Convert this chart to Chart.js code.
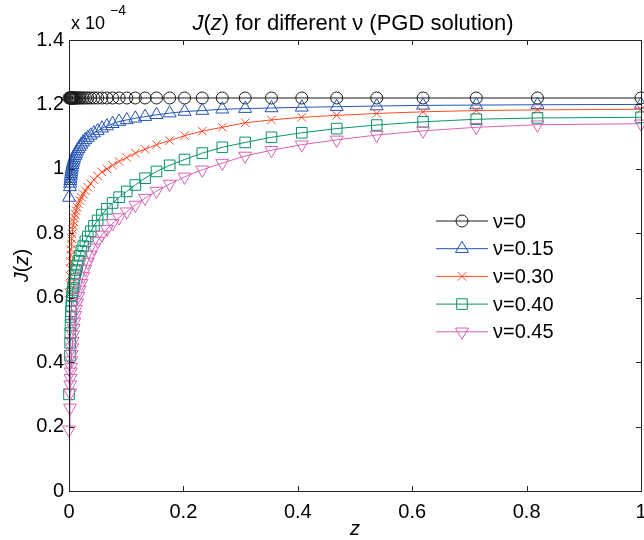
<!DOCTYPE html>
<html><head><meta charset="utf-8">
<script src="https://cdn.jsdelivr.net/npm/chart.js@4"></script>
<style>html,body{margin:0;padding:0;background:#fff}#wrap{width:644px;height:540px}</style>
</head><body><div id="wrap"><canvas id="c" width="644" height="540"></canvas></div>
<script>
// ---- data (J values in units of 1e-4) ----
const Z = [0, 0.0017, 0.0020, 0.0023, 0.0027, 0.0031, 0.0035, 0.0041, 0.0047, 0.0054, 0.0062, 0.0071, 0.0081, 0.0094, 0.0108, 0.0124, 0.0142, 0.0164, 0.0188, 0.0217, 0.0249, 0.0286, 0.0329, 0.0379, 0.0436, 0.0501, 0.0576, 0.0663, 0.0762, 0.0876, 0.101, 0.116, 0.133, 0.153, 0.176, 0.202, 0.233, 0.268, 0.308, 0.354, 0.407, 0.468, 0.538, 0.619, 0.712, 0.819, 1.0];
const J_NU_0 = [1.22,1.22,1.22,1.22,1.22,1.22,1.22,1.22,1.22,1.22,1.22,1.22,1.22,1.22,1.22,1.22,1.22,1.22,1.22,1.22,1.22,1.22,1.22,1.22,1.22,1.22,1.22,1.22,1.22,1.22,1.22,1.22,1.22,1.22,1.22,1.22,1.22,1.22,1.22,1.22,1.22,1.22,1.22,1.22,1.22,1.22,1.22];
const J_NU_015 = [0.911,0.944,0.955,0.963,0.970,0.978,0.985,0.992,0.999,1.006,1.013,1.020,1.027,1.034,1.041,1.048,1.055,1.062,1.069,1.076,1.083,1.090,1.097,1.104,1.111,1.118,1.126,1.133,1.140,1.147,1.152,1.157,1.162,1.168,1.173,1.178,1.181,1.185,1.187,1.189,1.191,1.193,1.195,1.197,1.198,1.199,1.200];
const J_NU_030 = [0.615,0.640,0.667,0.690,0.712,0.732,0.750,0.767,0.783,0.798,0.812,0.824,0.836,0.848,0.859,0.870,0.881,0.892,0.902,0.912,0.922,0.932,0.943,0.954,0.966,0.978,0.990,1.000,1.011,1.023,1.035,1.049,1.061,1.075,1.088,1.103,1.117,1.129,1.143,1.152,1.160,1.166,1.172,1.177,1.181,1.183,1.185];
const J_NU_040 = [0.300,0.420,0.460,0.490,0.515,0.540,0.558,0.575,0.591,0.604,0.617,0.630,0.644,0.658,0.672,0.686,0.700,0.715,0.730,0.745,0.760,0.775,0.790,0.806,0.823,0.840,0.858,0.876,0.894,0.912,0.930,0.950,0.971,0.992,1.011,1.029,1.049,1.067,1.082,1.098,1.112,1.125,1.136,1.146,1.154,1.158,1.160];
const J_NU_045 = [0.190,0.258,0.305,0.330,0.350,0.370,0.385,0.405,0.425,0.445,0.465,0.485,0.505,0.525,0.545,0.565,0.585,0.605,0.625,0.645,0.667,0.689,0.711,0.733,0.755,0.776,0.795,0.813,0.831,0.849,0.867,0.888,0.909,0.931,0.953,0.975,0.997,1.018,1.040,1.058,1.075,1.090,1.105,1.118,1.129,1.137,1.140];
const SERIES_LABELS = ['\u03bd=0', '\u03bd=0.15', '\u03bd=0.30', '\u03bd=0.40', '\u03bd=0.45'];
const X_TICKS = [0, 0.2, 0.4, 0.6, 0.8, 1];
const Y_TICKS = [0, 0.2, 0.4, 0.6, 0.8, 1, 1.2, 1.4];

// ---- styles ----
const FONT = "'Liberation Sans', Arial, Helvetica, sans-serif";
const STYLES = [
  {color:'#1a1a1a', pointStyle:'circle', radius:6, rotation:0},
  {color:'#2454b4', pointStyle:'triangle', radius:7.5, rotation:0},
  {color:'#ff4a25', pointStyle:'crossRot', radius:6, rotation:0},
  {color:'#07936b', pointStyle:'rect', radius:7.5, rotation:0},
  {color:'#d862b4', pointStyle:'triangle', radius:7.5, rotation:180}
];
const SERIES = [J_NU_0, J_NU_015, J_NU_030, J_NU_040, J_NU_045];

const datasets = SERIES.map((vals, i) => ({
  label: SERIES_LABELS[i],
  data: Z.map((z, k) => ({x: z, y: vals[k]})),
  showLine: true,
  borderColor: STYLES[i].color,
  borderWidth: 1,
  backgroundColor: 'rgba(0,0,0,0)',
  pointStyle: STYLES[i].pointStyle,
  pointRadius: STYLES[i].radius,
  pointRotation: STYLES[i].rotation,
  pointBorderColor: STYLES[i].color,
  pointBackgroundColor: 'rgba(0,0,0,0)',
  pointBorderWidth: 1,
  tension: 0,
  clip: false,
  order: 10 - i
}));

function fmt(v){ return (Math.round(v*10)/10).toString(); }

function drawRich(ctx, parts, x, y, size, align){
  let total = 0;
  parts.forEach(p => { ctx.font = (p[1] ? 'italic ' : '') + size + 'px ' + FONT; total += ctx.measureText(p[0]).width; });
  let cx = align === 'center' ? x - total/2 : x;
  ctx.textAlign = 'left';
  parts.forEach(p => { ctx.font = (p[1] ? 'italic ' : '') + size + 'px ' + FONT; ctx.fillText(p[0], cx, y); cx += ctx.measureText(p[0]).width; });
}

function drawMarker(ctx, st, x, y){
  const r = st.radius;
  ctx.beginPath();
  if (st.pointStyle === 'circle') { ctx.arc(x, y, r, 0, Math.PI*2); }
  else if (st.pointStyle === 'triangle') {
    let rad = st.rotation * Math.PI/180;
    for (let k=0;k<3;k++){ const px = x + Math.sin(rad)*r, py = y - Math.cos(rad)*r; k?ctx.lineTo(px,py):ctx.moveTo(px,py); rad += 2*Math.PI/3; }
    ctx.closePath();
  } else if (st.pointStyle === 'rect') { const s = Math.SQRT1_2*r; ctx.rect(x-s, y-s, 2*s, 2*s); }
  else if (st.pointStyle === 'crossRot') { const s = Math.SQRT1_2*r; ctx.moveTo(x-s,y-s); ctx.lineTo(x+s,y+s); ctx.moveTo(x-s,y+s); ctx.lineTo(x+s,y-s); }
  ctx.stroke();
}

const decor = {
  id: 'decor',
  afterDraw(chart){
    const ctx = chart.ctx, a = chart.chartArea, xs = chart.scales.x, ys = chart.scales.y;
    ctx.save();
    ctx.strokeStyle = '#222'; ctx.lineWidth = 1;
    ctx.strokeRect(Math.round(a.left)+0.5, Math.round(a.top)+0.5, Math.round(a.right-a.left), Math.round(a.bottom-a.top));
    ctx.beginPath();
    X_TICKS.forEach(v => { const px = Math.round(xs.getPixelForValue(v))+0.5; ctx.moveTo(px, a.bottom); ctx.lineTo(px, a.bottom-5); ctx.moveTo(px, a.top); ctx.lineTo(px, a.top+5); });
    Y_TICKS.forEach(v => { const py = Math.round(ys.getPixelForValue(v))+0.5; ctx.moveTo(a.left, py); ctx.lineTo(a.left+5, py); ctx.moveTo(a.right, py); ctx.lineTo(a.right-5, py); });
    ctx.stroke();
    ctx.fillStyle = '#000';
    ctx.textBaseline = 'middle';
    drawRich(ctx, [['J',true],['(',false],['z',true],[') for different \u03bd (PGD solution)',false]], (a.left+a.right)/2 - 2, 24, 22, 'center');
    ctx.textBaseline = 'alphabetic';
    drawRich(ctx, [['x 10',false]], 71, 29, 18, 'left');
    drawRich(ctx, [['\u22124',false]], 110, 15, 14, 'left');
    ctx.textBaseline = 'middle';
    drawRich(ctx, [['z',true]], (a.left+a.right)/2, 529, 20, 'center');
    ctx.save(); ctx.translate(22, (a.top+a.bottom)/2); ctx.rotate(-Math.PI/2);
    drawRich(ctx, [['J',true],['(',false],['z',true],[')',false]], 0, 0, 20, 'center');
    ctx.restore();
    SERIES_LABELS.forEach((lab, i) => {
      const y = 221 + i*27.7;
      const st = STYLES[i];
      ctx.strokeStyle = st.color; ctx.lineWidth = 1;
      ctx.beginPath(); ctx.moveTo(436, y); ctx.lineTo(488, y); ctx.stroke();
      drawMarker(ctx, st, 462, y);
      ctx.fillStyle = '#000'; ctx.textBaseline = 'middle';
      drawRich(ctx, [[lab,false]], 493, y+1, 20, 'left');
    });
    ctx.restore();
  }
};

new Chart(document.getElementById('c').getContext('2d'), {
  type: 'scatter',
  data: {datasets},
  options: {
    responsive: false, animation: false, devicePixelRatio: 1,
    layout: {padding: {left: 0, right: 3, top: 40, bottom: 0}, autoPadding: false},
    plugins: {legend: {display: false}, tooltip: {enabled: false}, title: {display: false}},
    scales: {
      x: {
        type: 'linear', min: 0, max: 1,
        afterFit(s){ s.height = 49; s.paddingLeft = 0; s.paddingRight = 0; },
        afterBuildTicks(s){ s.ticks = X_TICKS.map(v => ({value: v})); },
        ticks: {font: {family: FONT, size: 20}, color: '#000', padding: 9, maxRotation: 0, autoSkip: false, callback: v => fmt(v)},
        grid: {display: false, drawTicks: false},
        border: {display: false}
      },
      y: {
        type: 'linear', min: 0, max: 1.4,
        afterFit(s){ s.width = 69; s.paddingTop = 0; s.paddingBottom = 0; },
        afterBuildTicks(s){ s.ticks = Y_TICKS.map(v => ({value: v})); },
        ticks: {font: {family: FONT, size: 20}, color: '#000', padding: 5, autoSkip: false, callback: v => fmt(v)},
        grid: {display: false, drawTicks: false},
        border: {display: false}
      }
    }
  },
  plugins: [decor]
});
</script>
</body></html>
